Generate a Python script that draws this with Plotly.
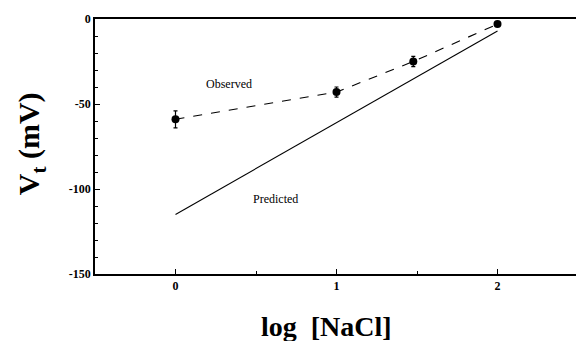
import plotly.graph_objects as go

log_nacl = [0, 1, 1.477, 2]
observed = [-59, -43, -25, -3]
observed_err = [5, 3, 3, 0]
pred_x = [0, 2]
pred_y = [-115, -7]

x_tickvals = [0, 1, 2]
x_ticktext = ["<b>0</b>", "<b>1</b>", "<b>2</b>"]
y_tickvals = [0, -50, -100, -150]
y_ticktext = ["<b>0</b>", "<b>-50</b>", "<b>-100</b>", "<b>-150</b>"]

FONT = "Liberation Serif, Times New Roman, serif"

fig = go.Figure()
fig.add_trace(go.Scatter(
    x=pred_x, y=pred_y, mode="lines",
    line=dict(color="black", width=1.1), showlegend=False))
fig.add_trace(go.Scatter(
    x=log_nacl, y=observed, mode="lines+markers",
    line=dict(color="black", width=1.1, dash="dash"),
    marker=dict(color="black", size=8),
    error_y=dict(type="data", array=observed_err, color="black", thickness=1.2, width=2),
    showlegend=False))

fig.add_annotation(x=0.33, y=-38.5, text="Observed", showarrow=False,
                   font=dict(family=FONT, size=12, color="black"))
fig.add_annotation(x=0.62, y=-106, text="Predicted", showarrow=False,
                   font=dict(family=FONT, size=12, color="black"))

fig.add_annotation(xref="paper", yref="paper", x=-0.132, y=0.51,
                   text="<b>V<sub>t</sub> (mV)</b>", textangle=-90, showarrow=False,
                   xanchor="center", yanchor="middle",
                   font=dict(family=FONT, size=30, color="black"))
fig.add_annotation(xref="paper", yref="paper", x=0.48, y=-0.206,
                   text="<b>log&nbsp;&nbsp;[NaCl]</b>", showarrow=False,
                   xanchor="center", yanchor="middle",
                   font=dict(family=FONT, size=28, color="black"))

fig.update_xaxes(range=[-0.5, 2.5], tickvals=x_tickvals, ticktext=x_ticktext,
                 showgrid=False, zeroline=False, showline=True, linecolor="black",
                 linewidth=1.5, mirror=True, ticks="inside", ticklen=5,
                 tickcolor="black", minor=dict(dtick=0.5, ticks="inside", ticklen=3, tickcolor="black"),
                 tickfont=dict(family=FONT, size=12, color="black"))
fig.update_yaxes(range=[-150, 0], tickvals=y_tickvals, ticktext=y_ticktext,
                 showgrid=False, zeroline=False, showline=True, linecolor="black",
                 linewidth=1.5, mirror=True, ticks="inside", ticklen=5,
                 tickcolor="black", minor=dict(dtick=10, ticks="inside", ticklen=3, tickcolor="black"),
                 tickfont=dict(family=FONT, size=12, color="black"))

# page body has an 8px default margin, so the figure is sized to fit inside it
fig.update_layout(width=576, height=333, margin=dict(l=87, r=4, t=9, b=67),
                  plot_bgcolor="white", paper_bgcolor="white",
                  font=dict(family=FONT, color="black"))
fig.write_html("out.html")
